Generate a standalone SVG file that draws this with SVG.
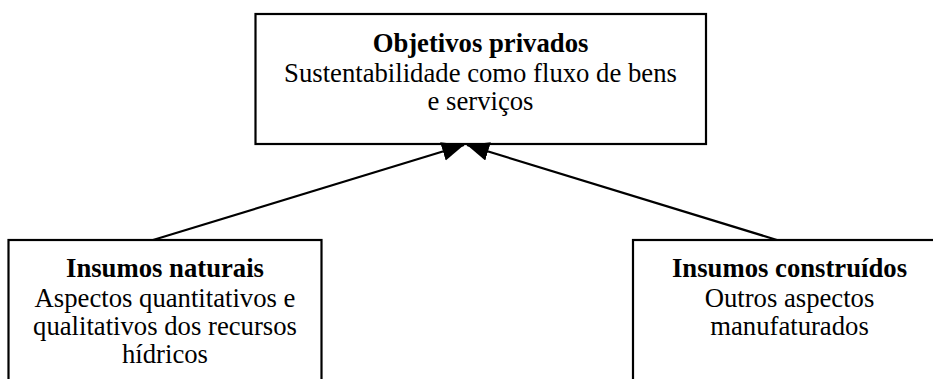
<svg xmlns="http://www.w3.org/2000/svg" width="933" height="379" viewBox="0 0 933 379">
<style>
.box{fill:#fff;stroke:#000;stroke-width:2.2}
.t{font-family:"Liberation Serif","Times New Roman",serif;font-size:26.7px;fill:#000;text-anchor:middle}
.b{font-weight:bold}
.edge{stroke:#000;stroke-width:2.2;fill:none}
</style>
<defs>
<marker id="ah" markerUnits="userSpaceOnUse" markerWidth="24" markerHeight="20" refX="22" refY="9.5" orient="auto" viewBox="0 0 24 20">
<path d="M0,0 L22,9.5 L0,19 z" fill="#000"/>
</marker>
</defs>
<rect width="933" height="379" fill="#fff"/>
<g id="objetivos">
<rect class="box" x="255.5" y="14" width="450.5" height="130"/>
<text class="t b" x="480.5" y="52">Objetivos privados</text>
<text class="t" x="480.5" y="82">Sustentabilidade como fluxo de bens</text>
<text class="t" x="480.5" y="110">e serviços</text>
</g>
<g id="naturais">
<rect class="box" x="8.5" y="240" width="313" height="150"/>
<text class="t b" x="165" y="277">Insumos naturais</text>
<text class="t" x="165" y="307">Aspectos quantitativos e</text>
<text class="t" x="165" y="335">qualitativos dos recursos</text>
<text class="t" x="165" y="363">hídricos</text>
</g>
<g id="construidos">
<rect class="box" x="633" y="240" width="313" height="150"/>
<text class="t b" x="789.5" y="277">Insumos construídos</text>
<text class="t" x="789.5" y="307">Outros aspectos</text>
<text class="t" x="789.5" y="335">manufaturados</text>
</g>
<g id="connectors">
<line class="edge" x1="153" y1="240" x2="464" y2="145" marker-end="url(#ah)"/>
<line class="edge" x1="777" y1="240" x2="467" y2="145" marker-end="url(#ah)"/>
</g>
</svg>
